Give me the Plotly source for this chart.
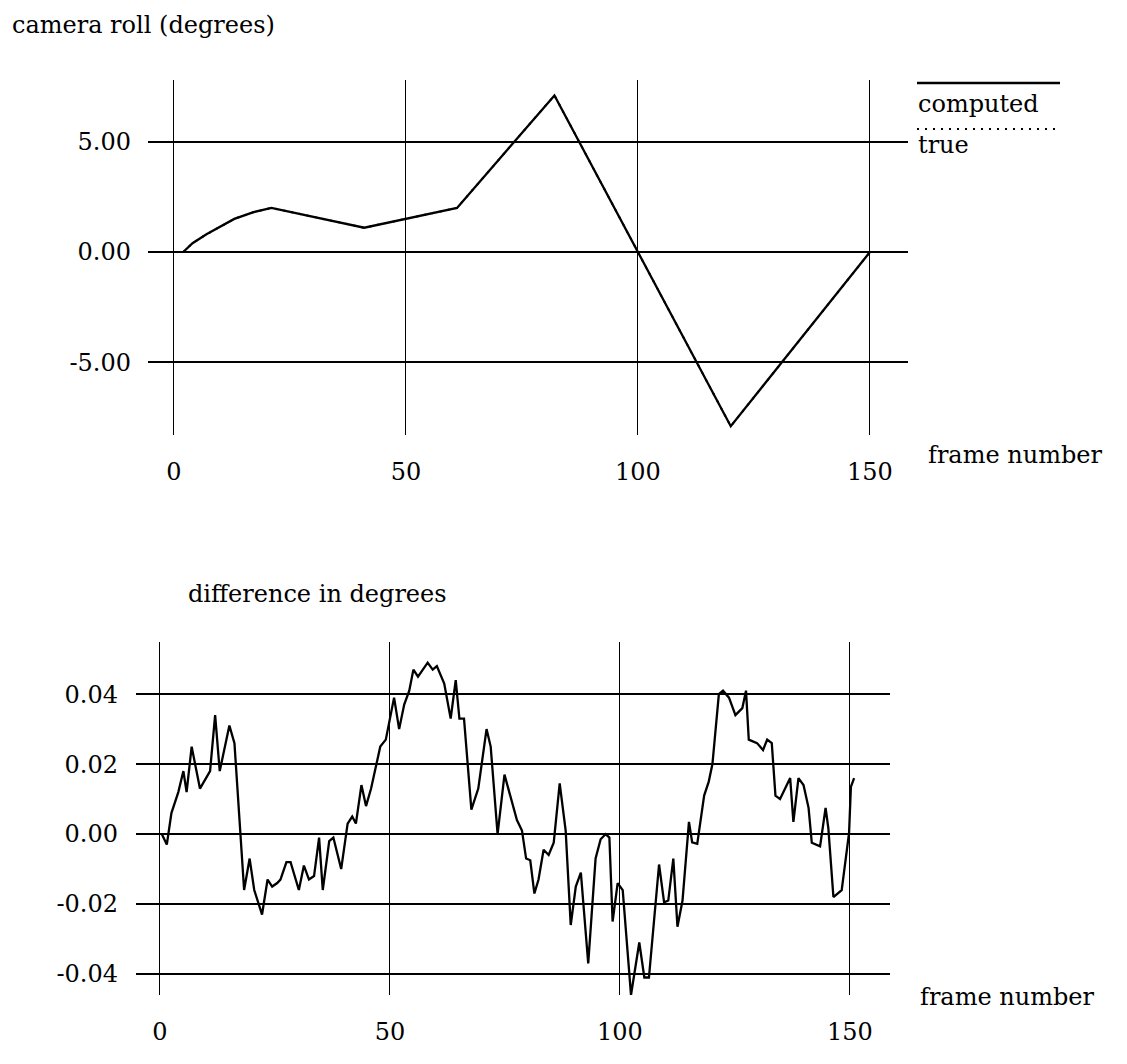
import plotly.graph_objects as go

W, H = 1127, 1064
OFF = 8  # page body margin in the browser

# ---- top chart data: camera roll (degrees) ----
roll_frames = [2, 4, 7, 9.5, 13, 17, 21, 41, 61, 82, 120, 150]
roll_computed = [0.0, 0.4, 0.8, 1.1, 1.5, 1.8, 2.0, 1.1, 2.0, 7.1, -7.9, 0.0]
roll_true = [0.0, 0.4, 0.8, 1.1, 1.5, 1.8, 2.0, 1.1, 2.0, 7.1, -7.9, 0.0]

roll_ticks = [-5, 0, 5]
roll_ticktext = ["-5.00", "0.00", "5.00"]
frame_ticks = [0, 50, 100, 150]
frame_ticktext = ["0", "50", "100", "150"]

# ---- bottom chart data: difference in degrees ----
diff_frames = [
    0.4, 1.5, 2.5, 4.0, 5.1, 5.8, 6.9, 8.7, 10.9, 12.0, 13.0, 15.1, 16.2, 17.1,
    18.3, 19.5, 20.5, 22.2, 23.4, 24.4, 25.5, 26.2, 27.5, 28.4, 30.2, 31.3,
    32.4, 33.5, 34.6, 35.4, 36.8, 37.7, 39.4, 40.8, 41.8, 42.6, 43.8, 44.8,
    45.9, 46.9, 47.9, 49.1, 50.9, 52.0, 53.1, 54.2, 55.1, 56.1, 58.2, 59.3,
    60.2, 61.8, 63.2, 64.3, 65.1, 66.1, 67.7, 69.2, 71.0, 71.9, 73.4, 74.9,
    77.6, 78.7, 79.6, 80.5, 81.4, 82.3, 83.4, 84.5, 85.6, 86.9, 88.2, 89.3,
    90.4, 91.5, 93.1, 94.7, 95.8, 96.9, 97.7, 98.4, 99.5, 100.6, 102.4, 104.2,
    105.3, 106.3, 108.5, 109.6, 110.5, 111.6, 112.5, 113.6, 115.0, 115.7,
    116.8, 118.3, 119.3, 120.1, 121.5, 122.4, 123.7, 125.1, 126.6, 127.4,
    128.0, 129.8, 131.1, 132.0, 133.0, 133.8, 134.8, 137.0, 137.7, 138.8,
    139.9, 141.0, 141.7, 143.5, 144.7, 145.3, 146.4, 148.2, 149.8, 150.2, 150.9,
]
diff_values = [
    0.000, -0.003, 0.006, 0.012, 0.018, 0.012, 0.025, 0.013, 0.018, 0.034,
    0.018, 0.031, 0.026, 0.009, -0.016, -0.007, -0.016, -0.023, -0.013,
    -0.015, -0.014, -0.013, -0.008, -0.008, -0.016, -0.009, -0.013, -0.012,
    -0.001, -0.016, -0.002, -0.001, -0.010, 0.003, 0.005, 0.003, 0.014,
    0.008, 0.013, 0.019, 0.025, 0.027, 0.039, 0.030, 0.037, 0.041, 0.047,
    0.045, 0.049, 0.047, 0.048, 0.043, 0.033, 0.044, 0.033, 0.033, 0.007,
    0.013, 0.030, 0.025, 0.000, 0.017, 0.004, 0.001, -0.007, -0.0075,
    -0.017, -0.013, -0.0045, -0.006, -0.0025, 0.0145, 0.001, -0.026, -0.015,
    -0.011, -0.037, -0.007, -0.0015, 0.000, -0.001, -0.025, -0.014, -0.016,
    -0.046, -0.031, -0.041, -0.041, -0.0087, -0.0195, -0.019, -0.007,
    -0.0265, -0.019, 0.0035, -0.0024, -0.0028, 0.011, 0.015, 0.020, 0.040,
    0.041, 0.039, 0.034, 0.036, 0.041, 0.027, 0.026, 0.024, 0.027, 0.026,
    0.011, 0.010, 0.016, 0.0035, 0.016, 0.014, 0.0075, -0.0025, -0.0035,
    0.0075, 0.0016, -0.018, -0.016, 0.0003, 0.0135, 0.016,
]
diff_ticks = [-0.04, -0.02, 0.0, 0.02, 0.04]
diff_ticktext = ["-0.04", "-0.02", "0.00", "0.02", "0.04"]

FONT = "DejaVu Serif"


def px(x):
    return (x - OFF) / W


def py(y):
    return 1 - (y - OFF) / H


fig = go.Figure()

fig.add_trace(go.Scatter(x=roll_frames, y=roll_true, mode="lines",
                         line=dict(color="black", width=2, dash="2px,6px"),
                         xaxis="x", yaxis="y", showlegend=False, name="true"))
fig.add_trace(go.Scatter(x=roll_frames, y=roll_computed, mode="lines",
                         line=dict(color="black", width=2.3),
                         xaxis="x", yaxis="y", showlegend=False, name="computed"))
fig.add_trace(go.Scatter(x=diff_frames, y=diff_values, mode="lines",
                         line=dict(color="black", width=2.3),
                         xaxis="x2", yaxis="y2", showlegend=False, name="difference"))

axis_common = dict(showline=False, zeroline=False, ticks="", showgrid=True,
                   gridcolor="black", tickfont=dict(family=FONT, size=24, color="black"))

fig.update_layout(
    width=W, height=H,
    margin=dict(l=0, r=0, t=0, b=0),
    paper_bgcolor="white", plot_bgcolor="white",
    xaxis=dict(domain=[px(148), px(908)], range=[-5.6, 158.2],
               tickvals=frame_ticks, ticktext=frame_ticktext,
               gridwidth=1.3, ticklabelstandoff=20, anchor="y", **axis_common),
    yaxis=dict(domain=[py(435), py(80)], range=[-8.3, 7.8],
               tickvals=roll_ticks, ticktext=roll_ticktext,
               gridwidth=2, ticklabelstandoff=16, anchor="x", **axis_common),
    xaxis2=dict(domain=[px(136), px(890)], range=[-5.2, 158.7],
                tickvals=frame_ticks, ticktext=frame_ticktext,
                gridwidth=1.3, ticklabelstandoff=20, anchor="y2", **axis_common),
    yaxis2=dict(domain=[py(995), py(642)], range=[-0.046, 0.0549],
                tickvals=diff_ticks, ticktext=diff_ticktext,
                gridwidth=2, ticklabelstandoff=17, anchor="x2", **axis_common),
)

label_font = dict(family=FONT, size=24, color="black")


def label(text, x, y):
    fig.add_annotation(text=text, x=px(x), y=py(y), xref="paper", yref="paper",
                       xanchor="left", yanchor="middle", showarrow=False,
                       font=label_font)


label("camera roll (degrees)", 10, 25)
label("frame number", 926, 455)
label("difference in degrees", 186, 594)
label("frame number", 918, 997)
label("computed", 916, 104)
label("true", 916, 145)

# legend samples
fig.add_shape(type="line", xref="paper", yref="paper",
              x0=px(917), x1=px(1060), y0=py(83), y1=py(83),
              line=dict(color="black", width=2.5))
fig.add_shape(type="line", xref="paper", yref="paper",
              x0=px(917), x1=px(1057), y0=py(129), y1=py(129),
              line=dict(color="black", width=2, dash="2px,6px"))

fig.write_html("out.html")
